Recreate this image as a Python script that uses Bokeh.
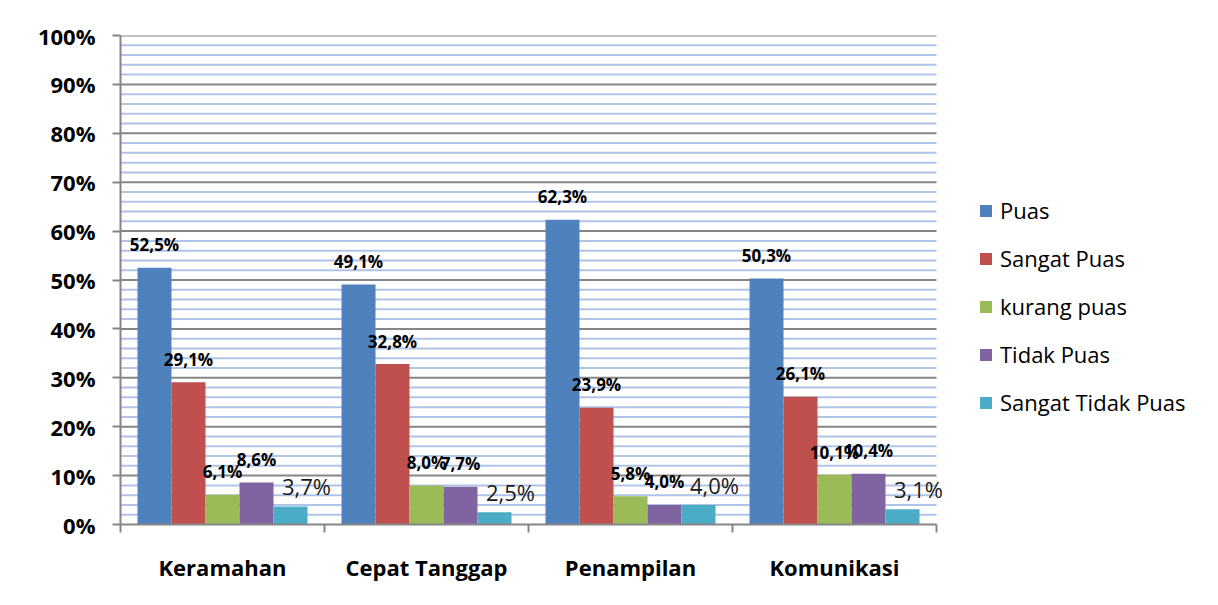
import numpy as np
from bokeh.plotting import figure
from bokeh.models import (ColumnDataSource, Range1d, FixedTicker, Legend, LegendItem)
from bokeh.core.properties import value
from bokeh.embed import file_html
from bokeh.resources import INLINE

categories = ["Keramahan", "Cepat Tanggap", "Penampilan", "Komunikasi"]
series_names = ["Puas", "Sangat Puas", "kurang puas", "Tidak Puas", "Sangat Tidak Puas"]
puas = [52.5, 49.1, 62.3, 50.3]
sangat_puas = [29.1, 32.8, 23.9, 26.1]
kurang_puas = [6.1, 8.0, 5.8, 10.1]
tidak_puas = [8.6, 7.7, 4.0, 10.4]
sangat_tidak_puas = [3.7, 2.5, 4.0, 3.1]
y_ticks = list(range(0, 101, 10))
y_tick_labels = [f"{t}%" for t in y_ticks]

series_values = [puas, sangat_puas, kurang_puas, tidak_puas, sangat_tidak_puas]
colors = ["#4F81BD", "#C0504D", "#9BBB59", "#8064A2", "#4BACC6"]
FONT = "Open Sans"
GREY = "#868686"
GRID_BLUE = "#b0c4e8"

n = len(categories)
W, H = 1202, 589
left, top, right_border, bottom = 120, 35, 2, 65
plot_w = 816  # width of the category area in px
frame_w = W - left - right_border
x_end = n * frame_w / plot_w  # frame extends to the right so the legend fits inside it

p = figure(x_range=Range1d(0, x_end), y_range=Range1d(0, 100),
           width=W, height=H, output_backend="svg", toolbar_location=None,
           min_border_left=left, min_border_top=top,
           min_border_right=right_border, min_border_bottom=bottom)
p.outline_line_color = None
p.xgrid.visible = False
p.ygrid.visible = False

# gridlines restricted to the category area
minor_ticks = [v for v in range(0, 101, 2) if v % 10]
major_grid = [v for v in y_ticks if v > 0]
p.segment(x0=0, x1=n, y0=minor_ticks, y1=minor_ticks, line_color=GRID_BLUE, line_width=2)
p.segment(x0=0, x1=n, y0=major_grid, y1=major_grid, line_color=GREY, line_width=2)

# y axis
p.yaxis.ticker = FixedTicker(ticks=y_ticks, minor_ticks=minor_ticks)
p.yaxis.major_label_overrides = {t: l for t, l in zip(y_ticks, y_tick_labels)}
p.yaxis.major_label_text_font = FONT
p.yaxis.major_label_text_font_style = "bold"
p.yaxis.major_label_text_font_size = "22px"
p.yaxis.major_label_text_color = "black"
p.yaxis.axis_line_color = GREY
p.yaxis.axis_line_width = 2
p.yaxis.major_tick_line_color = GREY
p.yaxis.major_tick_line_width = 2
p.yaxis.major_tick_out = 8
p.yaxis.major_tick_in = 0
p.yaxis.minor_tick_line_color = None
p.yaxis.major_label_standoff = 17

# x axis: category labels at centres, separator ticks at boundaries
centers = [i + 0.5 for i in range(n)]
p.xaxis.ticker = FixedTicker(ticks=centers, minor_ticks=list(range(n + 1)))
p.xaxis.bounds = (0, n)
p.xaxis.major_label_overrides = {c: cat for c, cat in zip(centers, categories)}
p.xaxis.major_tick_line_color = None
p.xaxis.minor_tick_line_color = GREY
p.xaxis.minor_tick_line_width = 2
p.xaxis.minor_tick_out = 8
p.xaxis.minor_tick_in = 0
p.xaxis.axis_line_color = GREY
p.xaxis.axis_line_width = 2
p.xaxis.major_label_text_font = FONT
p.xaxis.major_label_text_font_style = "bold"
p.xaxis.major_label_text_font_size = "22px"
p.xaxis.major_label_text_color = "black"
p.xaxis.major_label_standoff = 19

bw = 1 / 6
offsets = [-2 * bw, -bw, 0, bw, 2 * bw]
items = []
for i, (name, vals, col, off) in enumerate(zip(series_names, series_values, colors, offsets)):
    xs = np.arange(n) + 0.5 + off
    src = ColumnDataSource(dict(x=xs, val=vals,
                                lab=[f"{v:.1f}".replace(".", ",") + "%" for v in vals]))
    r = p.vbar(x="x", top="val", width=bw, source=src, fill_color=col, line_color=None)
    items.append(LegendItem(label=name, renderers=[r]))
    if i < 4:
        p.text(x="x", y="val", text="lab", source=src,
               text_font=value(FONT), text_font_style="bold", text_font_size="17px",
               text_align="center", text_baseline="middle", y_offset=-23, text_color="black")
    else:
        p.text(x="x", y="val", text="lab", source=src,
               text_font=value(FONT), text_font_size="22px",
               text_align="center", text_baseline="middle", x_offset=16, y_offset=-20,
               text_color="#1a1a1a")

legend = Legend(items=items, location=(858, 107), glyph_width=15, glyph_height=15,
                label_text_font=FONT, label_text_font_size="22px", label_height=20,
                spacing=18, padding=0, margin=0, border_line_color=None,
                background_fill_alpha=0, label_standoff=7, label_text_color="black")
p.add_layout(legend)

open("out.html", "w").write(file_html(p, INLINE))
